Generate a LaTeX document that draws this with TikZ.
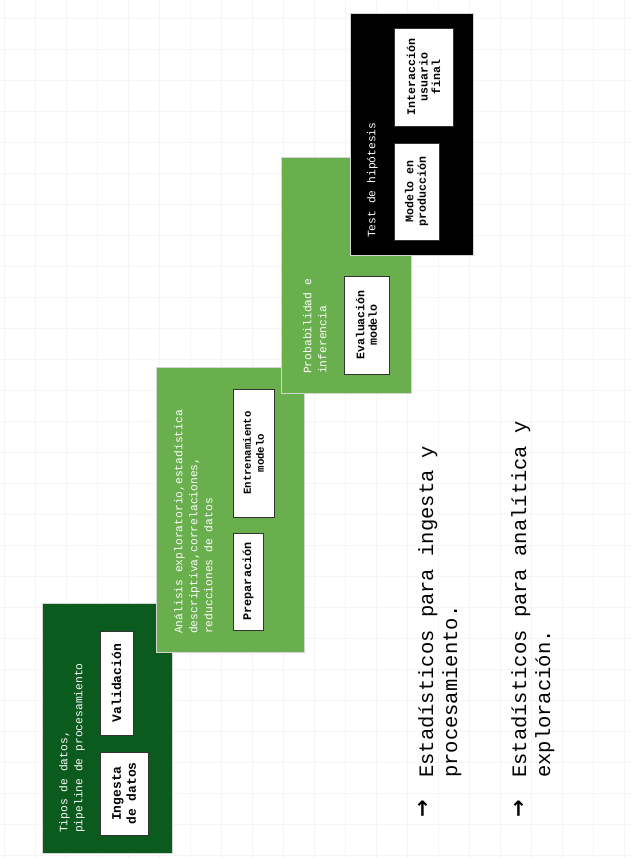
\documentclass[tikz,border=0pt]{standalone}
\usepackage{fontspec}
\setmonofont{Liberation Mono}
\newfontfamily\flechas{DejaVu Sans}
\definecolor{verdeoscuro}{HTML}{0B5A1E}
\definecolor{verdeclaro}{HTML}{6AAF4E}
\definecolor{rejilla}{HTML}{F5F5F5}
\definecolor{borde}{HTML}{D4D4D4}

\begin{document}
\begin{tikzpicture}[x=1pt, y=-1pt,
	etapa/.style={draw=borde, line width=0.8pt, inner sep=0pt},
	caja/.style 2 args={draw=black!80, fill=white, line width=0.8pt, rotate=90, align=center, inner sep=0pt, font=\ttfamily\bfseries\fontsize{#1}{#2}\selectfont},
	titulo/.style={rotate=90, anchor=north west, align=left, inner sep=0pt, text=white, font=\ttfamily\fontsize{11.3}{15}\selectfont},
	nota/.style={rotate=90, anchor=north west, align=left, inner sep=0pt, font=\ttfamily\fontsize{20.5}{24}\selectfont},
	flecha/.style={rotate=90, inner sep=0pt, font=\flechas\bfseries\fontsize{21}{21}\selectfont}]
	\useasboundingbox[fill=white] (0,0) rectangle (631,858);
	\foreach \x in {4,35,...,631}
		\draw[rejilla, line width=0.7pt] (\x,0) -- (\x,858);
	\foreach \y in {18,49,...,858}
		\draw[rejilla, line width=0.7pt] (0,\y) -- (631,\y);

	\node [etapa, fill=verdeoscuro, minimum width=130, minimum height=250] (tipos) at (107,728) {};
	\node [etapa, fill=verdeclaro, minimum width=148, minimum height=285] (analisis) at (230,509.5) {};
	\node [etapa, fill=verdeclaro, minimum width=130, minimum height=236] (probabilidad) at (346,275) {};
	\node [etapa, fill=black, minimum width=123, minimum height=242] (test) at (411.5,134) {};

	\node [titulo] (t-tipos) at (59,833) {Tipos de datos,\\pipeline de procesamiento};
	\node [titulo] (t-analisis) at (174,634) {Análisis exploratorio,estadística\\descriptiva,correlaciones,\\reducciones de datos};
	\node [titulo] (t-probabilidad) at (303,374) {Probabilidad e\\inferencia};
	\node [titulo] (t-test) at (367,238) {Test de hipótesis};

	\node [caja={13}{15}, minimum width=83, minimum height=48] (ingesta) at (124,793.5) {Ingesta\\de datos};
	\node [caja={13}{15}, minimum width=104, minimum height=33] (validacion) at (116.5,683) {Validación};
	\node [caja={11.8}{13}, minimum width=97, minimum height=30] (preparacion) at (248,581.5) {Preparación};
	\node [caja={10.7}{13}, minimum width=128, minimum height=41] (entrenamiento) at (253.5,453) {Entrenamiento\\modelo};
	\node [caja={11.6}{12.5}, minimum width=98, minimum height=45] (evaluacion) at (366.5,325) {Evaluación\\modelo};
	\node [caja={11.6}{12.5}, minimum width=97, minimum height=45] (produccion) at (416.5,191.5) {Modelo en\\producción};
	\node [caja={11.6}{12.5}, minimum width=98, minimum height=59] (interaccion) at (423.5,77) {Interacción\\usuario\\final};

	\node [flecha] (f-ingesta) at (424,809) {→};
	\node [nota] (n-ingesta) at (418,778) {Estadísticos para ingesta y\\procesamiento.};
	\node [flecha] (f-analitica) at (520,809) {→};
	\node [nota] (n-analitica) at (511,778) {Estadísticos para analítica y\\exploración.};
\end{tikzpicture}
\end{document}
